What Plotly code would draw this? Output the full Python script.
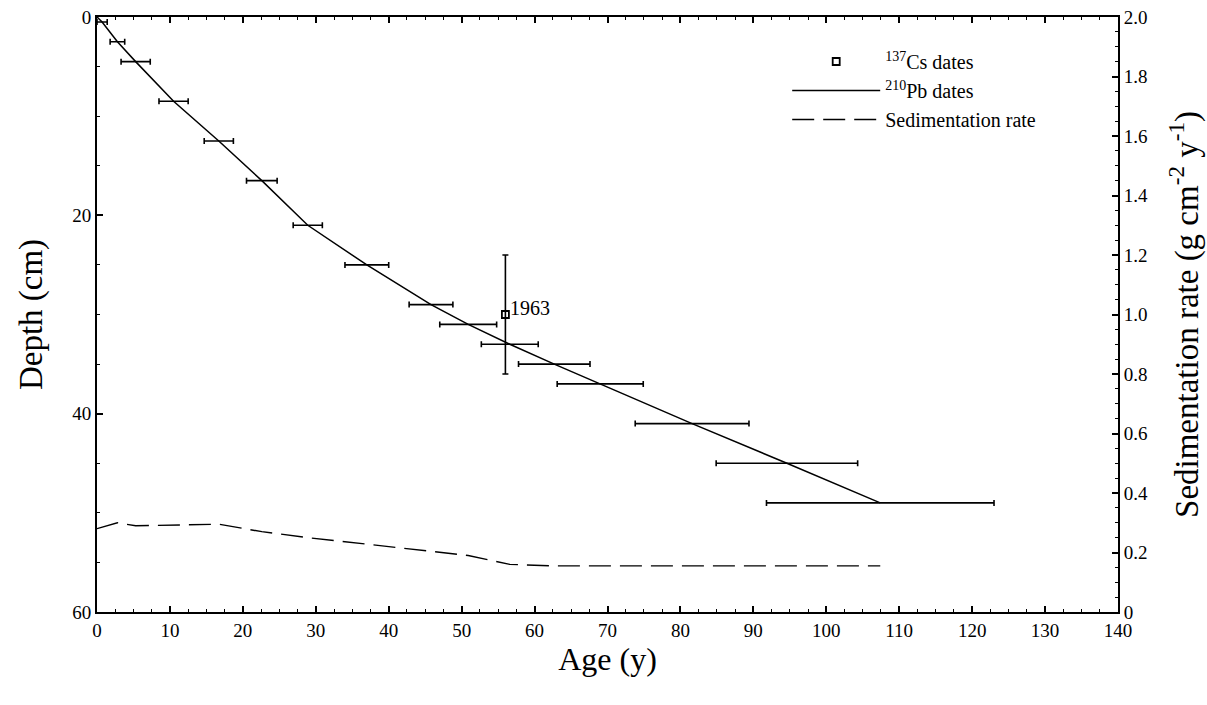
import plotly.graph_objects as go

# 210Pb chronology: depth (cm), age (y) and age uncertainty (y)
pb_depth = [0.5, 2.5, 4.5, 8.5, 12.5, 16.5, 21, 25, 29, 31, 33, 35, 37, 41, 45, 49]
pb_age = [0.7, 2.8, 5.3, 10.5, 16.7, 22.6, 28.9, 37.0, 45.8, 50.9, 56.6, 62.7, 69.0, 81.6, 94.6, 107.4]
pb_err = [0.7, 1.0, 2.0, 2.0, 2.0, 2.1, 2.0, 3.0, 3.0, 3.9, 3.9, 4.9, 5.9, 7.8, 9.7, 15.6]

# 137Cs marker horizon (1963)
cs_age = [56.0]
cs_depth = [30.0]
cs_depth_err = [6.0]
cs_label = "1963"

# Sedimentation rate (g cm-2 y-1) against age
sed_age = [0, 2.8, 5.3, 10.5, 16.7, 22.6, 28.9, 37.0, 45.8, 50.9, 56.6, 62.7, 69.0, 81.6, 94.6, 107.4]
sed_rate = [0.28, 0.30, 0.29, 0.292, 0.295, 0.27, 0.25, 0.228, 0.205, 0.19, 0.16, 0.155, 0.155, 0.155, 0.155, 0.155]

FONT = "Times New Roman, Liberation Serif, serif"

fig = go.Figure()

# 210Pb age-depth curve, starting at the sediment surface
fig.add_trace(go.Scatter(
    x=[0] + pb_age, y=[0] + pb_depth, mode="lines",
    line=dict(color="black", width=1.5),
    name="<sup>210</sup>Pb dates", legendrank=2,
))
# horizontal uncertainty bars on the 210Pb dates
fig.add_trace(go.Scatter(
    x=pb_age, y=pb_depth, mode="markers",
    marker=dict(size=0.1, color="black"),
    error_x=dict(type="data", array=pb_err, color="black", thickness=1.6, width=3),
    showlegend=False, hoverinfo="skip",
))
# 137Cs date with depth uncertainty
fig.add_trace(go.Scatter(
    x=cs_age, y=cs_depth, mode="markers",
    marker=dict(symbol="square-open", size=7, color="black", line=dict(width=1.8)),
    error_y=dict(type="data", array=cs_depth_err, color="black", thickness=1.6, width=3),
    name="<sup>137</sup>Cs dates", legendrank=1,
))
# sedimentation rate on the secondary axis
fig.add_trace(go.Scatter(
    x=sed_age, y=sed_rate, mode="lines", yaxis="y2",
    line=dict(color="black", width=1.4, dash="22px,9px"),
    name="Sedimentation rate", legendrank=3,
))

fig.add_annotation(
    x=cs_age[0], y=cs_depth[0], text=cs_label, showarrow=False,
    xanchor="left", xshift=3, yshift=7,
    font=dict(family=FONT, size=20, color="black"),
)

axis_common = dict(
    showline=True, linecolor="black", linewidth=2,
    ticks="inside", ticklen=6, tickwidth=1.5, tickcolor="black",
    showgrid=False, zeroline=False, automargin=False,
    tickfont=dict(family=FONT, size=19, color="black"),
)

fig.update_layout(
    width=1207, height=705,
    margin=dict(l=97, r=89, t=17, b=93),
    paper_bgcolor="white", plot_bgcolor="white",
    font=dict(family=FONT, color="black"),
    xaxis=dict(
        **axis_common, range=[0, 140], tickmode="linear", tick0=0, dtick=10,
        mirror="ticks",
        minor=dict(ticks="inside", ticklen=3, dtick=2.5, tickcolor="black", tickwidth=1),
        title=dict(text="Age (y)", font=dict(family=FONT, size=32), standoff=0),
    ),
    yaxis=dict(
        **axis_common, range=[60, 0], tickmode="linear", tick0=0, dtick=20,
        minor=dict(ticks="inside", ticklen=3, dtick=5, tickcolor="black", tickwidth=1),
        title=dict(text="Depth (cm)", font=dict(family=FONT, size=33), standoff=20),
    ),
    yaxis2=dict(
        **axis_common, overlaying="y", side="right", range=[0, 2],
        tickvals=[0, 0.2, 0.4, 0.6, 0.8, 1.0, 1.2, 1.4, 1.6, 1.8, 2.0],
        ticktext=["0", "0.2", "0.4", "0.6", "0.8", "1.0", "1.2", "1.4", "1.6", "1.8", "2.0"],
        minor=dict(ticks="inside", ticklen=3, dtick=0.05, tickcolor="black", tickwidth=1),
        title=dict(text="Sedimentation rate (g cm<sup>-2</sup> y<sup>-1</sup>)",
                   font=dict(family=FONT, size=33), standoff=28),
    ),
    legend=dict(
        x=0.676, y=0.958, xanchor="left", yanchor="top",
        bgcolor="rgba(0,0,0,0)", font=dict(family=FONT, size=20),
        itemwidth=88, tracegroupgap=0,
        traceorder="normal",
    ),
    showlegend=True,
)

fig.write_html("out.html")
